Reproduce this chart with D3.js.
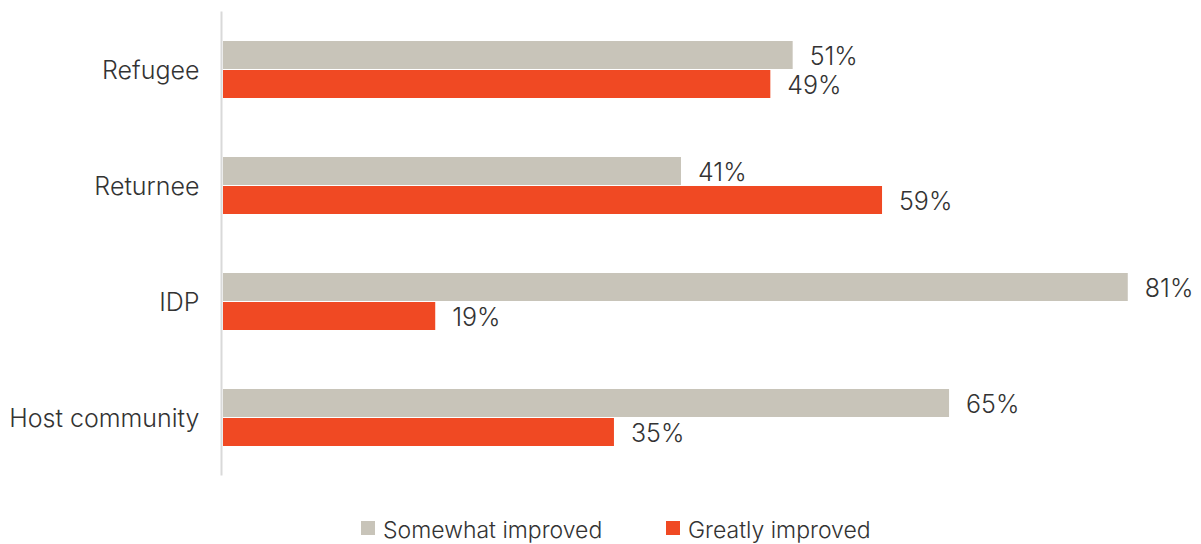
<!DOCTYPE html>
<html>
<head>
<meta charset="utf-8">
<script src="https://cdn.jsdelivr.net/npm/d3@7/dist/d3.min.js"></script>
<style>
  html, body { margin: 0; padding: 0; background: #ffffff; }
  svg { display: block; }
  text { font-family: Inter, "Noto Sans", sans-serif; fill: #333333; font-weight: 300; }
</style>
</head>
<body>
<svg id="chart" width="1201" height="544"></svg>
<script>
const categories = ["Refugee", "Returnee", "IDP", "Host community"];
const seriesNames = ["Somewhat improved", "Greatly improved"];
const somewhatImproved = [51, 41, 81, 65];
const greatlyImproved = [49, 59, 19, 35];
const seriesColors = ["#c8c4b9", "#f04923"];

const seriesValues = [somewhatImproved, greatlyImproved];
const data = categories.map((c, i) => ({
  category: c,
  values: seriesNames.map((s, j) => ({ series: s, value: seriesValues[j][i], color: seriesColors[j] }))
}));

const svg = d3.select("#chart");

const x = d3.scaleLinear().domain([0, 100]).range([223, 223 + 1117]);
const y = d3.scaleBand().domain(categories).range([11.5, 475.5]).padding(0);
const yInner = d3.scaleBand().domain(seriesNames).range([y.bandwidth() / 2 - 28.5, y.bandwidth() / 2 + 28.5]).paddingInner(1 / 29);

// bars
const groups = svg.append("g").selectAll("g")
  .data(data).join("g")
  .attr("transform", d => `translate(0,${y(d.category)})`);

groups.selectAll("rect")
  .data(d => d.values).join("rect")
  .attr("x", x(0))
  .attr("y", d => yInner(d.series))
  .attr("width", d => x(d.value) - x(0))
  .attr("height", yInner.bandwidth())
  .attr("fill", d => d.color);

groups.selectAll("text.val")
  .data(d => d.values).join("text")
  .attr("class", "val")
  .attr("x", d => x(d.value) + 17)
  .attr("y", d => yInner(d.series) + yInner.bandwidth() / 2 + 9.5)
  .attr("font-size", 25)
  .text(d => d.value + "%");

// y axis
const yAxis = d3.axisLeft(y).tickSize(0).tickPadding(22);
const axisG = svg.append("g")
  .attr("transform", `translate(221.5,0)`)
  .call(yAxis);
axisG.select(".domain").attr("stroke", "#d9d9d9").attr("stroke-width", 2)
  .attr("d", `M0,${y.range()[0]}V${y.range()[1]}`);
axisG.selectAll(".tick text")
  .attr("font-size", 25)
  .attr("font-family", "Inter, 'Noto Sans', sans-serif")
  .attr("font-weight", 300)
  .attr("fill", "#333333")
  .attr("dy", "0.36em");

// legend
const legendPos = [361, 666];
const legend = svg.append("g").selectAll("g")
  .data(seriesNames).join("g")
  .attr("transform", (d, i) => `translate(${legendPos[i]},521)`);
legend.append("rect").attr("width", 14).attr("height", 14)
  .attr("fill", (d, i) => seriesColors[i]);
legend.append("text").attr("x", 22).attr("y", 16.5)
  .attr("font-size", 23)
  .text(d => d);
</script>
</body>
</html>
